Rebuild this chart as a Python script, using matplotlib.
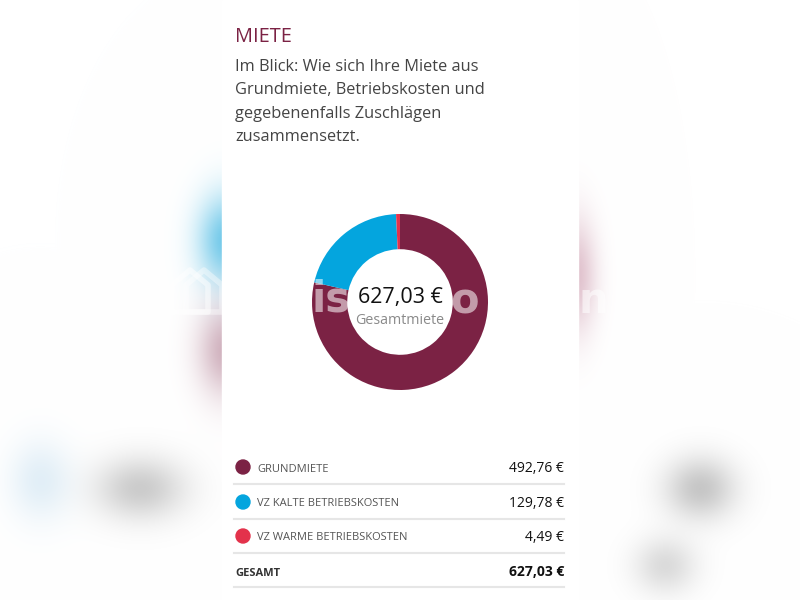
import numpy as np
import matplotlib
matplotlib.use("Agg")
import matplotlib.pyplot as plt
from matplotlib.patches import Rectangle, Circle

# data
labels = ["GRUNDMIETE", "VZ KALTE BETRIEBSKOSTEN", "VZ WARME BETRIEBSKOSTEN"]
values = [492.76, 129.78, 4.49]
colors = ["#7b2244", "#04a5de", "#e3324b"]
total_label = "GESAMT"
title = "MIETE"
intro = ["Im Blick: Wie sich Ihre Miete aus",
         "Grundmiete, Betriebskosten und",
         "gegebenenfalls Zuschlägen",
         "zusammensetzt."]

def euro(v):
    return ("%.2f" % v).replace(".", ",") + " €"

FONT = ["Open Sans", "DejaVu Sans"]

fig = plt.figure(figsize=(8, 6), dpi=100)
fig.patch.set_facecolor("white")

# background: blurred page behind the white card
bg = fig.add_axes([0, 0, 1, 1], zorder=0)
yy, xx = np.mgrid[0:600, 0:800]
img = np.ones((600, 800, 3))
def blob(cx, cy, sx, sy, rgb, a):
    g = a * np.exp(-(((xx - cx) / sx) ** 2 + ((yy - cy) / sy) ** 2) / 2)
    for k in range(3):
        img[:, :, k] = img[:, :, k] * (1 - g) + rgb[k] * g
blob(226, 240, 20, 32, (0.0, 0.62, 0.85), 0.55)
blob(226, 350, 20, 32, (0.48, 0.13, 0.27), 0.35)
blob(576, 275, 14, 40, (0.60, 0.20, 0.35), 0.3)
blob(140, 488, 32, 22, (0.6, 0.6, 0.6), 0.5)
blob(40, 480, 22, 28, (0.55, 0.75, 0.88), 0.25)
blob(700, 488, 25, 22, (0.6, 0.6, 0.6), 0.55)
blob(665, 565, 22, 20, (0.65, 0.65, 0.65), 0.4)
bg.imshow(img, extent=[0, 800, 600, 0], aspect="auto")
bg.add_patch(Rectangle((222, 0), 356, 600, color="white"))
bg.set_xlim(0, 800)
bg.set_ylim(600, 0)
bg.axis("off")

# donut
pie_ax = fig.add_axes([312 / 800, (600 - 390) / 600, 176 / 800, 176 / 600], zorder=1)
pie_ax.pie(values, colors=colors, startangle=90, counterclock=False, radius=1,
           wedgeprops=dict(width=0.4, edgecolor="none"))
pie_ax.set_xlim(-1, 1)
pie_ax.set_ylim(-1, 1)
pie_ax.axis("off")

# overlay: texts, watermark, table
ov = fig.add_axes([0, 0, 1, 1], zorder=2)
ov.set_xlim(0, 800)
ov.set_ylim(600, 0)
ov.axis("off")
ov.patch.set_alpha(0)

# watermark fragments
wm = dict(color="white", alpha=0.55, fontsize=30, fontweight="bold",
          family="DejaVu Sans", va="center", ha="center")
ov.text(331, 299, "is", **wm)
ov.text(465, 301, "o", **wm)
ov.text(593, 301, "n", **wm)
hx = [172, 172, 190, 208, 208, 172]
hy = [312, 285, 270, 285, 312, 312]
ov.plot(hx, hy, color="white", alpha=0.5, lw=4)
ov.plot([x + 14 for x in hx], hy, color="white", alpha=0.4, lw=4)

ov.text(235, 42, title, color="#7b2244", fontsize=14.3, family=FONT, va="baseline")
for i, line in enumerate(intro):
    ov.text(235, 71 + i * 23.3, line, color="#444444", fontsize=11.8, family=FONT, va="baseline")

ov.text(400, 303, euro(sum(values)), color="#111111", fontsize=15.5, family=FONT,
        ha="center", va="baseline")
ov.text(400, 324, "Gesamtmiete", color="#8a8a8a", fontsize=10.3, family=FONT,
        ha="center", va="baseline")

row_y = [467, 502, 536, 571]
for i, (lab, v, c) in enumerate(zip(labels, values, colors)):
    y = row_y[i]
    ov.add_patch(Circle((243, y), 7, color=c))
    ov.text(257, y + 4.5, lab, color="#555555", fontsize=8, family=FONT, va="baseline")
    ov.text(564, y + 5, euro(v), color="#111111", fontsize=10, family=FONT,
            ha="right", va="baseline")
    ov.plot([234, 564], [y + 17, y + 17], color="#e6e6e6", lw=1.5)
y = row_y[3]
ov.text(235, y + 4.5, total_label, color="#333333", fontsize=8, family=FONT,
        fontweight="bold", va="baseline")
ov.text(564, y + 5, euro(sum(values)), color="#111111", fontsize=10, family=FONT,
        fontweight="bold", ha="right", va="baseline")
ov.plot([234, 564], [y + 16, y + 16], color="#e6e6e6", lw=1.5)

fig.savefig("out.png", dpi=100)
